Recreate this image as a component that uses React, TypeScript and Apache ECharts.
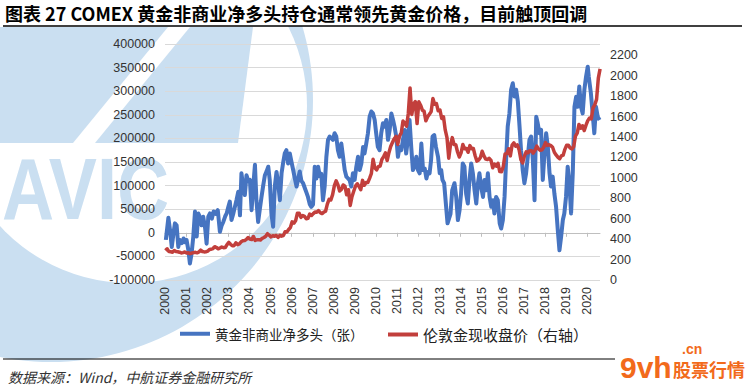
import React, { useEffect, useRef } from 'react';
import * as echarts from 'echarts';

const titleText = '图表 27 COMEX 黄金非商业净多头持仓通常领先黄金价格，目前触顶回调';
const sourceText = '数据来源：Wind，中航证券金融研究所';
const seriesNames = ['黄金非商业净多头（张）', '伦敦金现收盘价（右轴）'];
const yearTicks = [2000, 2001, 2002, 2003, 2004, 2005, 2006, 2007, 2008, 2009, 2010, 2011, 2012, 2013, 2014, 2015, 2016, 2017, 2018, 2019, 2020];
const rightTicks = [0, 200, 400, 600, 800, 1000, 1200, 1400, 1600, 1800, 2000, 2200];

// COMEX gold non-commercial net long (contracts), [decimal year, value]
const netLong: [number, number][] = [
  [2000.04, -15000], [2000.16, 32000], [2000.24, 5000], [2000.32, -30000], [2000.42, 5000], [2000.47, 20000],
  [2000.55, 16000], [2000.63, -30000], [2000.7, -15000], [2000.8, -22000], [2000.88, -12000], [2000.95, -20000],
  [2001.02, -15000], [2001.1, -35000], [2001.18, -65000], [2001.26, -44000], [2001.34, -8000], [2001.42, 45000],
  [2001.5, -8000], [2001.58, 41000], [2001.65, 34000], [2001.73, 16000], [2001.81, 34000], [2001.9, 10000],
  [2001.97, -23000], [2002.05, 34000], [2002.13, 41000], [2002.22, 30000], [2002.3, 45000], [2002.4, 40000],
  [2002.5, 48000], [2002.6, 2000], [2002.68, 15000], [2002.76, 23000], [2002.85, 35000], [2002.92, 41000],
  [2003.0, 55000], [2003.07, 66000], [2003.15, 27000], [2003.23, 40000], [2003.31, 55000], [2003.39, 70000],
  [2003.47, 87000], [2003.55, 37000], [2003.62, 126000], [2003.7, 98000], [2003.78, 80000], [2003.86, 122000],
  [2003.94, 110000], [2004.02, 112000], [2004.1, 48000], [2004.18, 100000], [2004.26, 144000], [2004.33, 69000],
  [2004.41, 23000], [2004.49, 50000], [2004.57, 76000], [2004.65, 100000], [2004.73, 122000], [2004.81, 130000],
  [2004.89, 140000], [2004.96, 112000], [2005.04, 41000], [2005.12, 13000], [2005.2, 98000], [2005.28, 129000],
  [2005.36, 105000], [2005.44, 69000], [2005.52, 126000], [2005.6, 150000], [2005.67, 168000], [2005.75, 175000],
  [2005.83, 147000], [2005.91, 168000], [2005.99, 150000], [2006.07, 133000], [2006.15, 115000], [2006.23, 98000],
  [2006.31, 115000], [2006.38, 130000], [2006.46, 110000], [2006.54, 105000], [2006.62, 95000], [2006.7, 85000],
  [2006.77, 76000], [2006.86, 60000], [2006.93, 55000], [2007.01, 60000], [2007.09, 140000], [2007.17, 115000],
  [2007.25, 140000], [2007.33, 120000], [2007.4, 125000], [2007.48, 69000], [2007.56, 98000], [2007.64, 160000],
  [2007.72, 197000], [2007.8, 204000], [2007.88, 200000], [2007.95, 197000], [2008.03, 211000], [2008.11, 204000],
  [2008.19, 175000], [2008.27, 161000], [2008.35, 189000], [2008.43, 161000], [2008.51, 133000], [2008.59, 119000],
  [2008.67, 115000], [2008.74, 112000], [2008.82, 98000], [2008.9, 126000], [2008.98, 112000], [2009.06, 140000],
  [2009.14, 161000], [2009.22, 133000], [2009.3, 147000], [2009.38, 182000], [2009.45, 168000], [2009.53, 189000],
  [2009.61, 211000], [2009.69, 246000], [2009.77, 257000], [2009.85, 253000], [2009.93, 239000], [2010.0, 211000],
  [2010.08, 182000], [2010.16, 175000], [2010.24, 211000], [2010.32, 232000], [2010.4, 225000], [2010.48, 239000],
  [2010.56, 197000], [2010.64, 218000], [2010.72, 253000], [2010.8, 239000], [2010.87, 225000], [2010.95, 204000],
  [2011.03, 161000], [2011.11, 182000], [2011.19, 175000], [2011.27, 197000], [2011.35, 218000], [2011.42, 168000],
  [2011.5, 197000], [2011.58, 239000], [2011.66, 182000], [2011.74, 133000], [2011.82, 140000], [2011.9, 161000],
  [2011.98, 133000], [2012.06, 126000], [2012.14, 189000], [2012.22, 133000], [2012.3, 136000], [2012.38, 115000],
  [2012.45, 129000], [2012.53, 126000], [2012.6, 154000], [2012.67, 204000], [2012.75, 207000], [2012.83, 182000],
  [2012.93, 161000], [2013.01, 126000], [2013.08, 133000], [2013.14, 112000], [2013.22, 105000], [2013.3, 62000],
  [2013.38, 20000], [2013.45, 30000], [2013.52, 40000], [2013.6, 90000], [2013.71, 105000], [2013.79, 76000],
  [2013.87, 27000], [2013.95, 48000], [2014.02, 83000], [2014.1, 147000], [2014.18, 140000], [2014.26, 83000],
  [2014.34, 62000], [2014.42, 112000], [2014.5, 147000], [2014.58, 126000], [2014.66, 90000], [2014.74, 62000],
  [2014.82, 105000], [2014.89, 126000], [2014.97, 98000], [2015.06, 76000], [2015.13, 112000], [2015.21, 90000],
  [2015.29, 126000], [2015.37, 76000], [2015.45, 55000], [2015.53, 69000], [2015.6, 41000], [2015.68, 76000],
  [2015.76, 69000], [2015.85, 20000], [2015.92, 9000], [2016.0, 27000], [2016.08, 76000], [2016.16, 161000],
  [2016.23, 225000], [2016.31, 253000], [2016.39, 303000], [2016.47, 317000], [2016.55, 289000], [2016.63, 303000],
  [2016.71, 278000], [2016.79, 225000], [2016.86, 175000], [2016.94, 133000], [2017.02, 105000], [2017.1, 126000],
  [2017.18, 161000], [2017.26, 197000], [2017.34, 204000], [2017.42, 154000], [2017.5, 69000], [2017.58, 246000],
  [2017.65, 232000], [2017.73, 211000], [2017.81, 218000], [2017.89, 112000], [2017.97, 168000], [2018.05, 211000],
  [2018.13, 182000], [2018.21, 126000], [2018.28, 98000], [2018.36, 119000], [2018.44, 83000], [2018.52, 55000],
  [2018.6, 6000], [2018.68, -37000], [2018.76, -8000], [2018.84, 27000], [2018.91, 41000], [2018.99, 76000],
  [2019.07, 140000], [2019.15, 105000], [2019.23, 41000], [2019.31, 126000], [2019.39, 267000], [2019.47, 288000],
  [2019.54, 267000], [2019.62, 310000], [2019.7, 267000], [2019.78, 253000], [2019.86, 303000], [2019.94, 331000],
  [2020.02, 352000], [2020.07, 330000], [2020.17, 295000], [2020.25, 253000], [2020.33, 211000], [2020.41, 267000],
  [2020.49, 246000], [2020.58, 239000],
];

// London gold price, monthly, Jan 2000 - Aug 2020 (USD/oz)
const goldStartYear = 2000;
const goldPrice = [
  288, 305, 278, 276, 272, 288, 278, 277, 272, 265, 268, 274,
  265, 266, 258, 264, 268, 271, 266, 274, 292, 279, 275, 277,
  282, 298, 301, 308, 326, 318, 305, 313, 323, 316, 318, 347,
  368, 350, 335, 336, 364, 346, 354, 374, 384, 386, 398, 416,
  400, 396, 426, 387, 394, 395, 391, 408, 416, 428, 453, 438,
  422, 434, 428, 436, 417, 437, 429, 434, 473, 470, 494, 513,
  569, 556, 582, 654, 653, 613, 632, 623, 599, 604, 646, 632,
  650, 665, 663, 679, 659, 650, 665, 673, 743, 789, 783, 836,
  923, 971, 933, 871, 886, 930, 918, 834, 884, 730, 815, 869,
  919, 942, 916, 883, 975, 927, 954, 955, 995, 1040, 1182, 1097,
  1078, 1109, 1115, 1180, 1208, 1244, 1169, 1246, 1307, 1346, 1383, 1405,
  1327, 1409, 1439, 1556, 1536, 1505, 1628, 1880, 1620, 1722, 1746, 1531,
  1744, 1711, 1662, 1651, 1558, 1598, 1622, 1648, 1776, 1720, 1726, 1657,
  1664, 1581, 1598, 1469, 1394, 1192, 1323, 1394, 1326, 1324, 1253, 1204,
  1244, 1326, 1284, 1288, 1250, 1315, 1285, 1286, 1216, 1164, 1175, 1199,
  1260, 1214, 1183, 1180, 1191, 1171, 1098, 1135, 1115, 1142, 1061, 1060,
  1111, 1234, 1237, 1285, 1215, 1321, 1342, 1309, 1322, 1272, 1178, 1146,
  1212, 1255, 1245, 1266, 1266, 1242, 1269, 1311, 1283, 1270, 1275, 1302,
  1345, 1318, 1324, 1315, 1299, 1250, 1224, 1202, 1187, 1215, 1222, 1279,
  1319, 1319, 1292, 1283, 1305, 1409, 1437, 1523, 1485, 1510, 1463, 1515,
  1560, 1585, 1577, 1686, 1715, 1768, 1976, 2067,
];

const BLUE = '#4674C1';
const RED = '#C23F3C';
const WM = '#CADFF1';
const CJK = '"Noto Sans CJK SC", sans-serif';
const LAT = '"Liberation Sans", Arial, sans-serif';

export default function App() {
  const ref = useRef<HTMLDivElement>(null);
  useEffect(() => {
    document.body.style.margin = '0';
    if (!ref.current) return;
    const chart = echarts.init(ref.current, null, { renderer: 'svg' });
    const goldData = goldPrice.map((v, i) => [goldStartYear + (i + 0.25) / 12, v]);
    const xMax = 2020.6;
    const option: any = {
      animation: false,
      backgroundColor: '#ffffff',
      textStyle: { fontFamily: LAT },
      grid: { left: 165, right: 155, top: 44, height: 236 },
      xAxis: [
        {
          type: 'value', min: 2000, max: xMax, interval: 1, position: 'bottom',
          axisLine: { show: true, onZero: true, onZeroAxisIndex: 0, lineStyle: { color: '#BFBFBF', width: 1 } },
          axisTick: { show: true, length: 4, lineStyle: { color: '#BFBFBF' }, customValues: yearTicks },
          axisLabel: { show: false },
          splitLine: { show: false },
        },
        {
          type: 'value', min: 2000, max: xMax, interval: 1, position: 'bottom',
          axisLine: { show: false, onZero: false },
          axisTick: { show: false },
          axisLabel: {
            rotate: 90, margin: 7, fontSize: 12.5, color: '#333', fontFamily: LAT,
            customValues: yearTicks,
            formatter: (v: number) => (Number.isInteger(v) ? String(v) : ''),
          },
          splitLine: { show: false },
        },
      ],
      yAxis: [
        {
          type: 'value', min: -100000, max: 400000, interval: 50000, position: 'left',
          axisLine: { show: false }, axisTick: { show: false },
          axisLabel: { margin: 10, fontSize: 12.5, color: '#333', fontFamily: LAT, formatter: (v: number) => String(v) },
          splitLine: { show: true, lineStyle: { color: '#D9D9D9', width: 1 } },
        },
        {
          type: 'value', min: 0, max: 2310, interval: 200, position: 'right',
          axisLine: { show: false }, axisTick: { show: false },
          axisLabel: {
            margin: 10, fontSize: 12.5, color: '#333', fontFamily: LAT,
            customValues: rightTicks,
            formatter: (v: number) => (v <= 2200 ? String(v) : ''),
          },
          splitLine: { show: false },
        },
      ],
      legend: [
        {
          data: [seriesNames[0]], left: 180, top: 327, padding: 0, icon: 'rect', itemWidth: 30, itemHeight: 4,
          textStyle: { fontSize: 13.5, color: '#222', fontFamily: CJK },
        },
        {
          data: [seriesNames[1]], left: 388, top: 327, padding: 0, icon: 'rect', itemWidth: 30, itemHeight: 4,
          textStyle: { fontSize: 15, color: '#222', fontFamily: CJK },
        },
      ],
      series: [
        {
          name: seriesNames[0], type: 'line', xAxisIndex: 0, yAxisIndex: 0, data: netLong,
          symbol: 'none', showSymbol: false, z: 3,
          lineStyle: { color: BLUE, width: 4, join: 'round' }, itemStyle: { color: BLUE },
        },
        {
          name: seriesNames[1], type: 'line', xAxisIndex: 0, yAxisIndex: 1, data: goldData,
          symbol: 'none', showSymbol: false, z: 4,
          lineStyle: { color: RED, width: 3.5, join: 'round' }, itemStyle: { color: RED },
        },
      ],
      graphic: [
        { type: 'circle', silent: true, z: -100, shape: { cx: 51, cy: 100, r: 262 }, style: { fill: WM } },
        { type: 'circle', silent: true, z: -99, shape: { cx: 130, cy: 106, r: 177 }, style: { fill: '#ffffff' } },
        { type: 'polygon', silent: true, z: -98, shape: { points: [[0, 27], [253, 27], [238, 143], [0, 143]] }, style: { fill: WM } },
        { type: 'polygon', silent: true, z: -97, shape: { points: [[168, 27], [190, 27], [95, 143], [73, 143]] }, style: { fill: '#ffffff' } },
        {
          type: 'text', silent: true, z: -97, x: 2, y: 188, scaleX: 0.82,
          style: { text: 'AVIC', font: `bold 88px ${LAT}`, fill: WM, align: 'left', verticalAlign: 'middle', textAlign: 'left', textVerticalAlign: 'middle' },
        },
        { type: 'rect', silent: true, z: -96, shape: { x: 0, y: 0, width: 755, height: 26 }, style: { fill: '#ffffff' } },
        {
          type: 'text', x: 5, y: 13,
          style: { text: titleText, font: `bold 18px ${CJK}`, fill: '#000', align: 'left', verticalAlign: 'middle', textAlign: 'left', textVerticalAlign: 'middle' },
        },
        { type: 'line', shape: { x1: 3, y1: 26, x2: 742, y2: 26 }, style: { stroke: '#000', lineWidth: 1.5 } },
        { type: 'line', shape: { x1: 3, y1: 359, x2: 742, y2: 359 }, style: { stroke: '#000', lineWidth: 1 } },
        {
          type: 'text', x: 8, y: 377,
          style: { text: sourceText, font: `italic 14px ${CJK}`, fill: '#333', align: 'left', verticalAlign: 'middle', textAlign: 'left', textVerticalAlign: 'middle' },
        },
        { type: 'rect', z: 5, shape: { x: 615, y: 342, width: 140, height: 47 }, style: { fill: '#ffffff' } },
        {
          type: 'text', z: 6, x: 620, y: 367,
          style: { text: '9vh', font: `bold 30px ${LAT}`, fill: '#F26A1B', align: 'left', verticalAlign: 'middle', textAlign: 'left', textVerticalAlign: 'middle' },
        },
        {
          type: 'text', z: 6, x: 682, y: 349,
          style: { text: '.cn', font: `bold 14px ${LAT}`, fill: '#F26A1B', align: 'left', verticalAlign: 'middle', textAlign: 'left', textVerticalAlign: 'middle' },
        },
        {
          type: 'text', z: 6, x: 673, y: 369,
          style: { text: '股票行情', font: `bold 18px ${CJK}`, fill: '#F26A1B', align: 'left', verticalAlign: 'middle', textAlign: 'left', textVerticalAlign: 'middle' },
        },
      ],
    };
    chart.setOption(option);
    return () => chart.dispose();
  }, []);
  return <div ref={ref} style={{ position: 'fixed', left: 0, top: 0, width: 755, height: 389 }} />;
}
